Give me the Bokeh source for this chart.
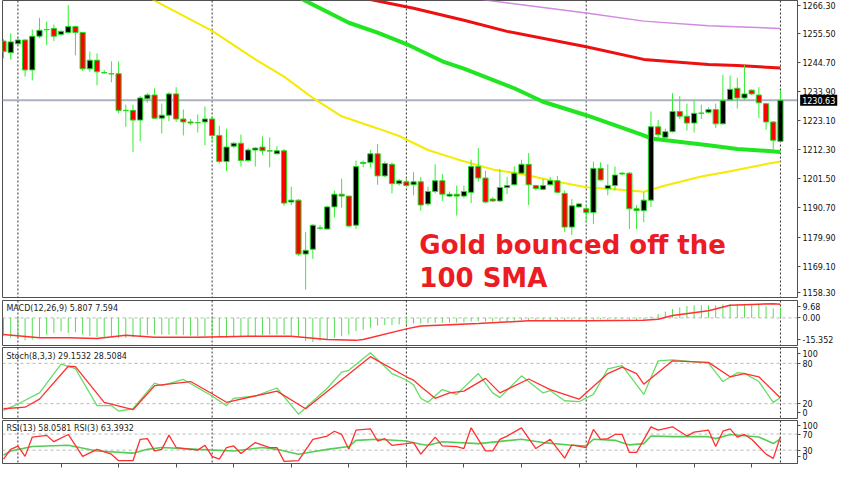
from bokeh.plotting import figure
from bokeh.layouts import column
from bokeh.models import Range1d, FixedTicker, Span, Label, ColumnDataSource
from bokeh.embed import file_html
from bokeh.resources import INLINE

# ---------------- data ----------------
opens = [1252.6, 1248.3, 1251.6, 1253.0, 1241.9, 1254.4, 1256.8, 1257.3, 1255.1, 1255.8,
         1258.0, 1255.8, 1242.3, 1245.5, 1240.8, 1240.5, 1240.5, 1226.9, 1226.9, 1223.3,
         1231.2, 1232.6, 1224.0, 1225.1, 1233.0, 1223.7, 1222.6, 1222.3, 1222.6, 1223.7,
         1217.6, 1207.9, 1213.6, 1214.7, 1208.3, 1212.2, 1213.3, 1211.9, 1210.8, 1211.9,
         1192.9, 1193.6, 1173.6, 1175.4, 1183.2, 1182.9, 1191.1, 1195.8, 1195.1, 1184.3,
         1207.2, 1207.6, 1210.8, 1202.6, 1206.9, 1199.7, 1200.4, 1199.3, 1200.4, 1192.2,
         1196.8, 1200.8, 1195.1, 1195.8, 1195.1, 1196.5, 1206.1, 1201.8, 1194.0, 1193.3,
         1198.3, 1199.3, 1203.6, 1206.9, 1199.0, 1197.6, 1199.3, 1200.8, 1196.1, 1183.6,
         1191.1, 1190.4, 1189.0, 1205.4, 1197.9, 1199.0, 1203.3, 1203.6, 1190.4, 1189.7,
         1193.6, 1220.8, 1216.9, 1219.0, 1226.5, 1224.7, 1222.2, 1225.8, 1226.2, 1227.2,
         1221.9, 1230.8, 1235.1, 1231.5, 1234.4, 1232.6, 1229.4, 1222.6, 1215.4]
highs = [1253.3, 1255.5, 1253.7, 1253.3, 1256.9, 1261.2, 1259.8, 1258.7, 1256.6, 1265.9,
         1258.3, 1255.9, 1248.7, 1248.0, 1241.9, 1245.1, 1245.1, 1229.0, 1229.0, 1232.2,
         1233.3, 1235.1, 1229.4, 1233.7, 1235.5, 1227.2, 1223.7, 1225.4, 1228.3, 1224.7,
         1221.2, 1220.1, 1215.1, 1217.9, 1212.9, 1213.3, 1217.2, 1216.9, 1213.6, 1212.6,
         1198.6, 1194.0, 1181.8, 1184.7, 1184.3, 1191.3, 1197.2, 1201.5, 1195.2, 1208.3,
         1208.3, 1212.2, 1214.4, 1207.9, 1207.6, 1201.5, 1201.5, 1204.0, 1202.2, 1198.6,
         1206.9, 1203.3, 1196.8, 1199.0, 1199.0, 1208.6, 1212.9, 1204.4, 1194.7, 1205.1,
         1202.2, 1206.1, 1208.6, 1211.1, 1199.3, 1201.5, 1202.2, 1202.6, 1197.2, 1194.0,
         1192.5, 1191.8, 1207.9, 1207.6, 1206.9, 1206.1, 1204.0, 1204.0, 1191.8, 1196.5,
         1226.5, 1223.3, 1220.1, 1233.3, 1232.2, 1229.4, 1230.8, 1229.0, 1228.0, 1229.4,
         1240.1, 1239.8, 1239.0, 1243.7, 1234.7, 1235.5, 1229.7, 1222.9, 1234.4]
lows = [1246.2, 1245.8, 1251.2, 1239.4, 1238.0, 1253.7, 1251.2, 1252.6, 1254.4, 1255.5,
        1247.3, 1241.5, 1241.2, 1236.2, 1240.5, 1237.3, 1225.8, 1220.8, 1211.5, 1215.4,
        1229.7, 1223.7, 1218.3, 1222.9, 1222.6, 1217.6, 1221.5, 1218.7, 1214.0, 1215.4,
        1207.2, 1204.4, 1212.9, 1206.1, 1207.9, 1206.1, 1210.4, 1205.8, 1210.6, 1191.5,
        1191.8, 1172.9, 1160.4, 1171.8, 1182.5, 1182.7, 1187.2, 1190.8, 1183.6, 1182.9,
        1205.8, 1205.8, 1199.3, 1202.2, 1196.1, 1199.0, 1198.6, 1195.4, 1189.7, 1191.5,
        1196.1, 1193.3, 1194.7, 1187.9, 1194.3, 1192.5, 1200.4, 1192.5, 1192.9, 1192.9,
        1195.8, 1199.0, 1203.3, 1191.8, 1197.2, 1197.2, 1199.0, 1196.1, 1181.8, 1180.7,
        1190.8, 1185.4, 1184.7, 1200.8, 1195.4, 1197.2, 1202.9, 1182.9, 1182.9, 1185.4,
        1191.1, 1216.9, 1216.5, 1218.7, 1223.7, 1219.4, 1218.7, 1223.7, 1225.8, 1220.4,
        1221.7, 1230.5, 1227.6, 1230.8, 1232.6, 1224.0, 1219.7, 1212.2, 1215.1]
closes = [1248.7, 1252.3, 1253.0, 1241.9, 1254.4, 1256.6, 1256.9, 1254.4, 1256.2, 1258.0,
          1255.8, 1242.3, 1245.5, 1241.2, 1240.9, 1240.4, 1226.9, 1226.8, 1223.3, 1231.5,
          1232.6, 1224.0, 1225.1, 1233.0, 1223.7, 1222.6, 1222.2, 1222.4, 1223.7, 1217.6,
          1207.9, 1213.3, 1214.7, 1208.3, 1212.2, 1212.9, 1211.9, 1211.8, 1211.9, 1192.5,
          1193.6, 1173.6, 1175.0, 1184.3, 1183.3, 1191.1, 1195.8, 1195.1, 1184.0, 1206.1,
          1207.6, 1210.8, 1202.6, 1207.2, 1199.7, 1200.8, 1199.0, 1200.4, 1191.8, 1196.8,
          1200.8, 1195.8, 1195.8, 1195.1, 1196.8, 1206.1, 1201.8, 1192.9, 1193.3, 1198.3,
          1199.0, 1203.6, 1206.9, 1199.3, 1197.9, 1199.0, 1200.8, 1196.5, 1183.6, 1191.5,
          1192.2, 1189.0, 1205.4, 1201.1, 1199.0, 1202.9, 1203.6, 1190.4, 1189.7, 1193.6,
          1220.8, 1217.9, 1219.0, 1226.5, 1224.7, 1222.2, 1225.8, 1225.9, 1227.2, 1221.9,
          1230.5, 1234.7, 1231.5, 1233.0, 1233.0, 1229.7, 1222.6, 1215.8, 1230.63]
bars = list(range(len(opens)))

yellow_x = [20, 21, 29, 35, 39, 43, 47, 52, 55, 59, 63, 68, 72, 77, 81, 85, 89, 92, 97, 101, 106, 108]
yellow_y = [1269.1, 1267.6, 1256.4, 1245.8, 1239.4, 1231.5, 1224.7, 1220.2, 1217.4, 1212.2, 1208.8,
            1205.0, 1203.3, 1200.4, 1198.4, 1197.6, 1196.7, 1199.0, 1202.4, 1204.3, 1207.0, 1207.9]
green_x = [41, 42, 48, 52, 56, 61, 64, 71, 75, 81, 89, 90, 98, 102, 108]
green_y = [1268.9, 1267.5, 1259.4, 1255.7, 1251.5, 1245.1, 1242.4, 1235.1, 1230.1, 1225.1,
           1217.6, 1216.5, 1214.0, 1212.6, 1211.5]
red_x = [51, 57, 64, 70, 81, 89, 98, 102, 108]
red_y = [1268.0, 1264.8, 1260.3, 1256.2, 1250.5, 1245.8, 1243.9, 1243.5, 1242.6]
violet_x = [66, 67, 81, 89, 98, 108]
violet_y = [1268.2, 1267.8, 1263.0, 1260.0, 1258.3, 1257.3]

# tick label texts and where the platform draws them (outer ones pulled inside the frame)
price_labels = ["1158.30", "1169.10", "1179.90", "1190.70", "1201.50", "1212.30",
                "1223.10", "1233.90", "1244.70", "1255.50", "1266.30"]
price_ticks = [1159.5, 1169.1, 1179.9, 1190.7, 1201.5, 1212.3, 1223.1, 1233.9, 1244.7, 1255.5, 1265.8]
last_price = 1230.63

macd_hist = [-10.2, -11.1, -11.4, -12.5, -12.0, -10.7, -9.3, -8.4, -7.5, -8.4,
             -8.0, -9.3, -10.2, -10.7, -10.7, -10.7, -11.1, -11.1, -10.7, -10.2,
             -9.6, -9.3, -9.3, -9.3, -9.3, -9.6, -9.8, -10.2, -10.2, -10.4,
             -11.1, -11.1, -10.7, -10.5, -10.4, -10.2, -9.6, -9.3, -9.3, -9.3,
             -9.8, -10.7, -12.8, -13.4, -12.8, -12.0, -11.1, -10.2, -9.3, -7.5,
             -6.6, -5.4, -4.3, -4.0, -4.0, -3.6, -3.6, -3.1, -3.1, -3.0,
             -2.8, -2.8, -2.7, -2.6, -2.5, -2.0, -1.8, -2.0, -2.1, -1.9,
             -1.8, -1.5, -1.2, -1.3, -1.4, -1.3, -1.2, -1.3, -1.9, -1.9,
             -1.8, -1.8, -1.0, -0.8, -0.9, -0.7, -0.6, -1.0, -1.2, -1.0,
             0.8, 2.2, 3.5, 4.9, 5.8, 6.6, 7.0, 7.0, 7.0, 7.0,
             7.5, 7.8, 7.8, 7.8, 7.8, 7.6, 6.6, 5.2, 5.807]
macd_sig_x = [0, 5, 9, 13, 17, 21, 27, 34, 40, 45, 49, 50, 56, 58, 66, 73, 81, 89, 91, 93, 98, 101, 105, 107, 108]
macd_sig_y = [-9.3, -11.1, -11.1, -11.4, -9.6, -10.7, -10.7, -10.2, -10.2, -12.0, -12.5, -12.0, -6.1,
              -4.5, -3.1, -1.6, -1.6, -1.3, -0.8, 1.3, 4.0, 7.0, 7.6, 7.9, 7.594]
macd_ticks = [6.1, 0.0, -12.0]
macd_labels = ["9.68", "0.00", "-15.352"]

stoch_k_x = [0, 2, 5, 8, 10, 13, 15, 16, 18, 21, 22, 25, 29, 31, 32, 35, 38, 41, 45, 47, 48, 51, 54, 56,
             57, 58, 59, 61, 63, 66, 68, 69, 72, 75, 76, 78, 80, 82, 84, 86, 89, 91, 93, 98, 100, 102,
             103, 105, 107, 108]
stoch_k_y = [10, 19.5, 36, 79, 72, 17, 17, 9, 12.4, 50.5, 46.7, 56, 31.4, 17, 28, 31.4, 43.3, 4.3, 43,
             67, 69.6, 95.7, 64.8, 55.2, 48, 28, 22, 41, 33.8, 64.8, 36, 29, 61.4, 36, 39.5, 24.3, 22.9,
             33.8, 71.9, 76.7, 33.8, 83.8, 85.2, 80.4, 52.9, 66, 65, 52.9, 21.9, 29.15]
stoch_d_x = [0, 3, 5, 9, 10, 14, 18, 21, 26, 29, 31, 38, 42, 51, 56, 57, 58, 60, 62, 64, 67, 69, 73, 76,
             80, 84, 86, 88, 89, 93, 98, 101, 103, 105, 108]
stoch_d_y = [12.4, 14.7, 26.7, 75.7, 75, 22, 11, 46.7, 52.9, 34.8, 22, 38.6, 12.4, 90, 60, 55, 45.7, 28,
             36, 38.6, 57.6, 36, 56.7, 41, 26.7, 64.8, 74.3, 64.8, 49, 83.8, 81.4, 60, 64.8, 60, 28.51]
stoch_ticks = [94, 80, 20, 7]
stoch_labels = ["100", "80", "20", "0"]

rsi3_x = [0, 1, 2, 3, 4, 6, 7, 9, 11, 13, 15, 16, 18, 19, 20, 21, 22, 23, 24, 27, 28, 29, 30, 31, 32, 33,
          35, 37, 38, 39, 41, 43, 45, 46, 47, 48, 49, 51, 52, 53, 54, 56, 57, 58, 60, 61, 63, 64, 65, 67,
          68, 69, 70, 72, 74, 76, 78, 79, 81, 82, 83, 84, 85, 86, 87, 88, 90, 91, 93, 95, 96, 98, 99,
          100, 101, 102, 103, 104, 106, 107, 108]
rsi3_y = [7.8, 32, 40, 14.5, 62.5, 66.7, 51, 69, 14.5, 32, 20, 3.7, 3.7, 57, 58.6, 28, 32, 67.4, 36.5,
          30, 42, 14.5, 7.8, 36.5, 40.4, 21.8, 48.8, 36.5, 36.5, 2.2, 3.7, 57, 65, 77, 69, 32, 79.7, 83,
          52.7, 58.6, 42, 46.3, 48.8, 20, 62.5, 40.4, 39, 34, 85.5, 28, 28, 57, 65, 85.5, 34, 57, 10.3,
          43, 36.5, 81.4, 57, 58.6, 69, 69, 24.3, 24.3, 88, 79.7, 88, 65, 74.8, 79.7, 39, 77, 83, 62.5,
          69, 57, 20, 9.6, 63.39]
rsi13_x = [0, 1, 4, 9, 13, 18, 20, 22, 27, 32, 36, 38, 41, 43, 45, 48, 49, 52, 56, 58, 59, 61, 66, 72,
           75, 79, 81, 82, 85, 87, 89, 90, 93, 98, 99, 101, 105, 107, 108]
rsi13_y = [17.6, 28, 39, 42, 28, 22.5, 32, 36.5, 32, 28, 36.5, 32, 20, 26, 32, 39, 54.4, 57, 52.7, 44.6,
           42, 51, 46.3, 57, 48.8, 42, 40.4, 57, 54.4, 43, 46.3, 65, 63.5, 63.5, 58.6, 69, 62.5, 46.3,
           58.06]
rsi_ticks = [91, 70, 30, 13]
rsi_labels = ["100", "70", "30", "0"]

separators = [2, 29, 56, 81, 108]
time_ticks = [8, 16, 24, 32, 40, 48, 56, 64, 72, 80, 88, 96, 104]

# ---------------- layout helpers ----------------
FONT = "DejaVu Sans"
xr = Range1d(-0.14, 110.37)


def panel(fh, y0, y1, top, bottom, ticks, labels, xaxis=False):
    p = figure(frame_width=795, frame_height=fh, x_range=xr, y_range=Range1d(y0, y1),
               y_axis_location="right", x_axis_location=("below" if xaxis else None),
               output_backend="svg", toolbar_location=None,
               min_border_left=2, min_border_right=39, min_border_top=top, min_border_bottom=bottom,
               background_fill_color="white", border_fill_color="white",
               outline_line_color="#505050", outline_line_width=1)
    p.xgrid.visible = False
    p.ygrid.visible = False
    ax = p.yaxis[0]
    ax.ticker = FixedTicker(ticks=ticks)
    ax.major_label_overrides = {t: s for t, s in zip(ticks, labels)}
    ax.major_tick_out = 3
    ax.major_tick_in = 0
    ax.minor_tick_out = 0
    ax.minor_tick_in = 0
    ax.major_label_standoff = 2
    ax.axis_line_color = "#505050"
    ax.major_tick_line_color = "#505050"
    ax.major_label_text_font = FONT
    ax.major_label_text_font_size = "8px"
    ax.major_label_text_color = "#111111"
    for s in separators:
        p.add_layout(Span(location=s, dimension="height", line_color="#303030",
                          line_dash="2 2", line_width=1, level="underlay"))
    return p


def title(p, y, text):
    p.add_layout(Label(x=0.4, y=y, text=text, text_baseline="top", text_align="left",
                       text_font=FONT, text_font_size="8px", text_color="#222222"))


# ---------------- main price panel ----------------
main = panel(297, 1157.49, 1267.65, 0, 1, price_ticks, price_labels)
main.add_layout(Span(location=last_price, dimension="width", line_color="#aab2c0",
                     line_width=2, level="underlay"))

main.line(yellow_x, yellow_y, line_color="#f5ea00", line_width=2)
main.line(violet_x, violet_y, line_color="#d08ae0", line_width=1.5)
main.line(red_x, red_y, line_color="#ee1010", line_width=3)
main.line(green_x, green_y, line_color="#22e522", line_width=4)

src = ColumnDataSource(dict(
    x=bars, h=highs, l=lows,
    top=[max(o, c) for o, c in zip(opens, closes)],
    bottom=[min(o, c) for o, c in zip(opens, closes)],
    fill=["#000000" if c >= o else "#ff0000" for o, c in zip(opens, closes)],
))
main.segment(x0="x", y0="h", x1="x", y1="l", source=src, line_color="#33ee33", line_width=1)
main.vbar(x="x", width=0.72, top="top", bottom="bottom", source=src,
          fill_color="fill", line_color="#22dd22", line_width=1)

main.add_layout(Label(x=57.8, y=1177.0, text="Gold bounced off the", text_font=FONT,
                      text_font_style="bold", text_font_size="26px", text_color="#ec1c24",
                      text_baseline="alphabetic"))
main.add_layout(Label(x=57.8, y=1164.6, text="100 SMA", text_font=FONT,
                      text_font_style="bold", text_font_size="26px", text_color="#ec1c24",
                      text_baseline="alphabetic"))
# price tag sits in the axis strip: give it a side-panel slot so it is not clipped to the frame
main.add_layout(Label(x=110.74, y=last_price, text="1230.63", text_font=FONT,
                      text_font_size="8px", text_color="white", text_baseline="middle",
                      text_align="left", background_fill_color="black", padding=2), "right")

# ---------------- MACD ----------------
macd = panel(45, -15.352, 9.68, 2, 1, macd_ticks, macd_labels)
macd.add_layout(Span(location=0, dimension="width", line_color="#b8b8b8", line_dash="3 3",
                     line_width=1, level="underlay"))
macd.segment(x0=bars, y0=[0] * len(bars), x1=bars, y1=macd_hist, line_color="#55dd55", line_width=1)
macd.line(macd_sig_x, macd_sig_y, line_color="#ff3030", line_width=1.5)
title(macd, 7.6, "MACD(12,26,9) 5.807 7.594")

# ---------------- Stochastic ----------------
stoch = panel(71, -2.1, 103.6, 1, 1, stoch_ticks, stoch_labels)
for lv in (20, 80):
    stoch.add_layout(Span(location=lv, dimension="width", line_color="#b8b8b8", line_dash="3 3",
                          line_width=1, level="underlay"))
stoch.line(stoch_k_x, stoch_k_y, line_color="#66dd66", line_width=1.3)
stoch.line(stoch_d_x, stoch_d_y, line_color="#ff3030", line_width=1.3)
title(stoch, 96.4, "Stoch(8,3,3) 29.1532 28.5084")

# ---------------- RSI ----------------
rsi = panel(43, -3.2, 103.7, 1, 6, rsi_ticks, rsi_labels, xaxis=True)
for lv in (30, 70):
    rsi.add_layout(Span(location=lv, dimension="width", line_color="#b8b8b8", line_dash="3 3",
                        line_width=1, level="underlay"))
rsi.line(rsi13_x, rsi13_y, line_color="#55cc55", line_width=1.6)
rsi.line(rsi3_x, rsi3_y, line_color="#ff3030", line_width=1.3)
title(rsi, 94.9, "RSI(13) 58.0581  RSI(3) 63.3932")
xa = rsi.xaxis[0]
xa.ticker = FixedTicker(ticks=time_ticks)
xa.major_label_overrides = {t: "" for t in time_ticks}
xa.major_label_text_font_size = "1px"
xa.major_label_standoff = 0
xa.major_tick_out = 4
xa.major_tick_in = 0
xa.minor_tick_out = 0
xa.minor_tick_in = 0
xa.axis_line_color = "#505050"
xa.major_tick_line_color = "#505050"

layout = column(main, macd, stoch, rsi, spacing=0)
open("out.html", "w").write(file_html(layout, INLINE))
